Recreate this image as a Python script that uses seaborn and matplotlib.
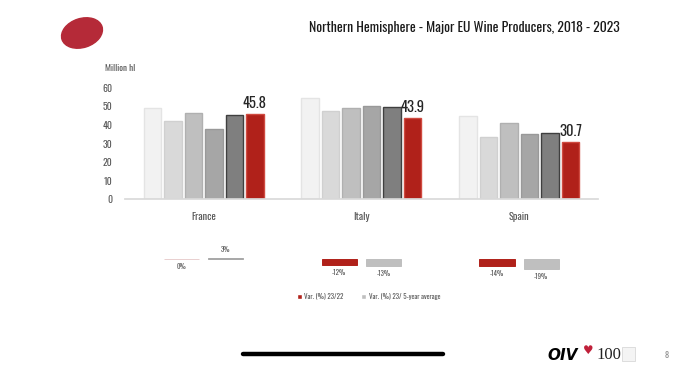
import pandas as pd
import seaborn as sns
import matplotlib.pyplot as plt
from matplotlib import font_manager
from matplotlib.patches import Ellipse, Rectangle

countries = ['France', 'Italy', 'Spain']
years = ['2018', '2019', '2020', '2021', '2022', '2023']
france = [49.2, 42.2, 46.7, 37.6, 45.6, 45.8]
italy = [54.8, 47.5, 49.1, 50.2, 49.8, 43.9]
spain = [44.9, 33.7, 40.9, 35.3, 35.7, 30.7]

var_names = ['Var. (%) 23/22', 'Var. (%) 23/ 5-year average']
var_23_22 = [0, -12, -14]
var_23_5y = [3, -13, -19]

year_colors = ['#f2f2f2', '#d9d9d9', '#bfbfbf', '#a6a6a6', '#7f7f7f', '#b0211a']
year_edges = ['#e4e4e4', '#d0d0d0', '#b0b0b0', '#999999', '#3f3f3f', '#d04a40']
var_colors = ['#b0211a', '#bfbfbf']
var_edges = ['#e9cfcf', '#a8a8a8']

sns.set_theme(style='white')
# condensed font like the slide's, if one is around
have = {f.name for f in font_manager.fontManager.ttflist}
cond = [n for n in ['Oswald', 'Roboto Condensed', 'Pathway Gothic One', 'Fjalla One',
                    'Liberation Sans Narrow', 'Archivo Narrow', 'PT Sans Narrow']
        if n in have]
plt.rcParams['font.family'] = cond[:1] + ['DejaVu Sans']
plt.rcParams['font.weight'] = 'light'

prod = pd.DataFrame({
    'country': [c for c in countries for _ in years],
    'year': years * 3,
    'value': france + italy + spain,
})
var = pd.DataFrame({
    'country': countries * 2,
    'series': [var_names[0]] * 3 + [var_names[1]] * 3,
    'value': var_23_22 + var_23_5y,
})

fig = plt.figure(figsize=(6.85, 3.69), dpi=100)

# slide decorations
deco = fig.add_axes([0, 0, 1, 1])
deco.set_xlim(0, 685)
deco.set_ylim(369, 0)
deco.axis('off')
deco.add_patch(Ellipse((82, 33), 42, 29, angle=-18, color='#b52a38'))
deco.text(620, 27, 'Northern Hemisphere - Major EU Wine Producers, 2018 - 2023',
          ha='right', va='center', fontsize=9.9, color='#1a1a1a')
deco.text(105, 68, 'Million hl', ha='left', va='center', fontsize=6.5, color='#595959')
deco.plot([243, 443], [354, 354], color='black', lw=3.2, solid_capstyle='round')
deco.text(547, 355, 'OIV', ha='left', va='center', fontsize=11, fontweight='bold',
          fontstyle='italic', color='black', family='DejaVu Sans')
deco.text(583, 351, '\u2665', ha='left', va='center', fontsize=8.5, color='#c0203a',
          family=['DejaVu Sans'], fontweight='normal')
deco.text(596, 355, '100', ha='left', va='center', fontsize=12, color='#222222',
          family='Liberation Serif', fontweight='normal')
deco.add_patch(Rectangle((622, 347), 13, 14, facecolor='#f4f4f4', edgecolor='#d8d8d8', lw=0.6))
deco.text(667, 355, '8', ha='center', va='center', fontsize=6, color='#8c8c8c')

# main production chart
ax = fig.add_axes([0.182, 1 - 199 / 369, 0.691, 111 / 369])
sns.barplot(data=prod, x='country', y='value', hue='year', palette=year_colors,
            saturation=1, width=0.78, gap=0.15, legend=False, ax=ax)
for cont, ec in zip(ax.containers, year_edges):
    for p in cont:
        p.set_edgecolor(ec)
        p.set_linewidth(1)
ax.bar_label(ax.containers[-1], fmt='%.1f', fontsize=10.5, color='#262626', padding=2,
             fontweight='normal')
ax.set_xlim(-0.5, 2.5)
ax.set_ylim(0, 60)
ax.set_yticks(range(0, 61, 10))
ax.set_xlabel('')
ax.set_ylabel('')
ax.tick_params(axis='both', length=0, labelsize=7, labelcolor='#595959')
ax.tick_params(axis='y', pad=9)
ax.tick_params(axis='x', pad=9, labelsize=7.5)
for s in ['top', 'right', 'left']:
    ax.spines[s].set_visible(False)
ax.spines['bottom'].set_color('#d9d9d9')
ax.patch.set_alpha(0)

# variation chart
ax2 = fig.add_axes([0.182, 1 - 279 / 369, 0.691, 40 / 369])
sns.barplot(data=var, x='country', y='value', hue='series', palette=var_colors,
            saturation=1, width=0.56, gap=0.2, ax=ax2)
ax2.set_xlim(-0.5, 2.5)
ax2.set_ylim(-40, 40)
ax2.axis('off')
for cont, ec in zip(ax2.containers, var_edges):
    for p, v in zip(cont, cont.datavalues):
        p.set_edgecolor(ec if abs(v) < 5 else p.get_facecolor())
        p.set_linewidth(0.7)
        x = p.get_x() + p.get_width() / 2
        if v > 0:
            ax2.annotate(f'{v:.0f}%', (x, v), xytext=(0, 3), textcoords='offset points',
                         ha='center', va='bottom', fontsize=5, color='#595959')
        else:
            ax2.annotate(f'{v:.0f}%', (x, v), xytext=(0, -3), textcoords='offset points',
                         ha='center', va='top', fontsize=5, color='#595959')
sns.move_legend(ax2, 'center', bbox_to_anchor=(0.538, 1 - 296 / 369),
                bbox_transform=fig.transFigure, ncol=2, frameon=False, title=None,
                fontsize=5, handlelength=0.7, handleheight=0.7, columnspacing=2.5,
                handletextpad=0.4)
for t in ax2.get_legend().get_texts():
    t.set_color('#595959')

fig.savefig('out.png', dpi=100)
